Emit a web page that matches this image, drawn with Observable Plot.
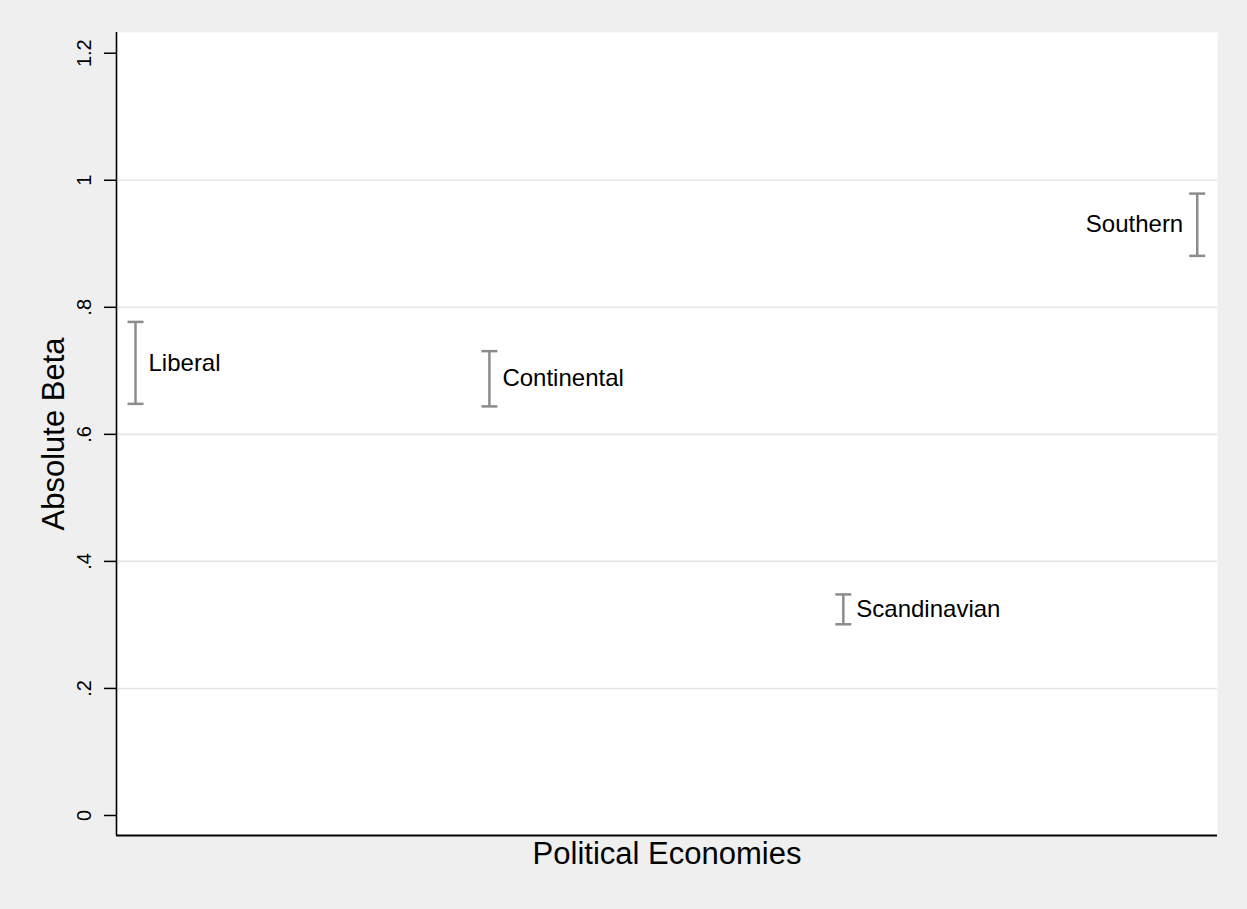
<!DOCTYPE html>
<html>
<head>
<meta charset="utf-8">
<script src="https://cdn.jsdelivr.net/npm/d3@7"></script>
<script src="https://cdn.jsdelivr.net/npm/@observablehq/plot@0.6"></script>
<style>
  html, body { margin: 0; padding: 0; background: #efefef; }
  #chart svg { display: block; }
</style>
</head>
<body>
<div id="chart"></div>
<script>
// Data
const regimes = ["Liberal", "Continental", "Scandinavian", "Southern"];
const positions = [1, 2, 3, 4];
const lower = [0.648, 0.644, 0.301, 0.881];
const upper = [0.777, 0.731, 0.348, 0.979];
const yTicks = [0, 0.2, 0.4, 0.6, 0.8, 1, 1.2];
const gridTicks = [0.2, 0.4, 0.6, 0.8, 1];

const data = regimes.map((name, i) => ({
  name, x: positions[i], lo: lower[i], hi: upper[i], mid: (lower[i] + upper[i]) / 2
}));

const xDomain = [0.9463, 4.0573];
const yDomain = [-0.0315, 1.2326];
const font = "'Liberation Sans', Arial, Helvetica, sans-serif";
const barColor = "#8c8c8c";

const capHalf = 8;
const hbar = {
  draw(context, size) {
    const r = Math.sqrt(size / Math.PI);
    context.moveTo(-r, 0);
    context.lineTo(r, 0);
  }
};

const fmt = d => d === 0 ? "0" : String(d).replace(/^0\./, ".");

const chart = Plot.plot({
  width: 1247,
  height: 909,
  marginLeft: 116,
  marginRight: 30,
  marginTop: 32,
  marginBottom: 74,
  style: { background: "#efefef", fontFamily: font, color: "black" },
  x: { domain: xDomain, axis: null },
  y: { domain: yDomain, axis: null },
  marks: [
    Plot.frame({ fill: "white", stroke: "none" }),
    Plot.gridY(gridTicks, { stroke: "#e6e6e6", strokeOpacity: 1, strokeWidth: 1.6 }),
    Plot.axisY(yTicks, {
      tickFormat: () => "",
      tickSize: 12,
      stroke: "black",
      strokeWidth: 1.5,
      label: null
    }),
    Plot.text(yTicks, {
      y: d => d, text: fmt, frameAnchor: "left", rotate: -90, dx: -26,
      lineAnchor: "bottom", textAnchor: "middle", fontSize: 20, fill: "black"
    }),
    Plot.ruleX([xDomain[0]], { stroke: "black", strokeWidth: 1.6 }),
    Plot.ruleY([yDomain[0]], { stroke: "black", strokeWidth: 1.8 }),
    Plot.ruleX(data, { x: "x", y1: "lo", y2: "hi", stroke: barColor, strokeWidth: 2.5 }),
    Plot.dot(data, { x: "x", y: "lo", symbol: hbar, r: capHalf, stroke: barColor, strokeWidth: 2.5, fill: "none" }),
    Plot.dot(data, { x: "x", y: "hi", symbol: hbar, r: capHalf, stroke: barColor, strokeWidth: 2.5, fill: "none" }),
    Plot.text(data.filter(d => d.name !== "Southern"), {
      x: "x", y: "mid", text: "name", textAnchor: "start", dx: 13, fontSize: 24, fill: "black", lineAnchor: "middle"
    }),
    Plot.text(data.filter(d => d.name === "Southern"), {
      x: "x", y: "mid", text: "name", textAnchor: "end", dx: -14, fontSize: 24, fill: "black", lineAnchor: "middle"
    }),
    Plot.text(["Absolute Beta"], {
      frameAnchor: "left", rotate: -90, dx: -53, lineAnchor: "bottom", textAnchor: "middle", fontSize: 31, fill: "black"
    }),
    Plot.text(["Political Economies"], {
      frameAnchor: "bottom", dy: 28, lineAnchor: "bottom", textAnchor: "middle", fontSize: 31, fill: "black"
    })
  ]
});

document.getElementById("chart").appendChild(chart);
</script>
</body>
</html>
